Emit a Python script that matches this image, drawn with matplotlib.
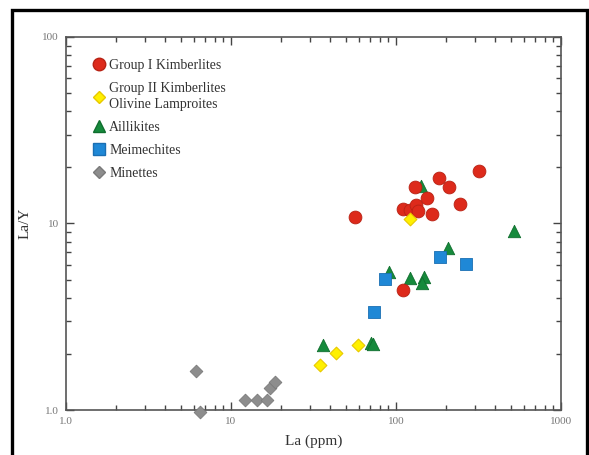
import matplotlib
matplotlib.use("Agg")
import matplotlib.pyplot as plt
from matplotlib.lines import Line2D
from matplotlib.patches import Rectangle
from matplotlib.ticker import LogLocator, NullFormatter, FixedFormatter, FixedLocator

# La (ppm) vs La/Y for each rock group
g1_la = [56.7, 109.8, 121.6, 132.2, 135.9, 130.4, 183, 208.6, 153.5, 166, 245, 318.5, 109.8]
g1_lay = [10.8, 11.9, 11.8, 12.5, 11.7, 15.6, 17.5, 15.6, 13.7, 11.3, 12.8, 19.2, 4.40]

g2_la = [34.7, 43.0, 59.0, 122.1]
g2_lay = [1.75, 2.02, 2.23, 10.6]

ail_la = [141.1, 205.2, 521, 90.1, 121.6, 147.8, 143.2, 35.9, 70.6, 72.9]
ail_lay = [15.9, 7.43, 9.17, 5.51, 5.10, 5.18, 4.78, 2.24, 2.30, 2.25]

mei_la = [183.5, 265.7, 85.8, 73.5]
mei_lay = [6.61, 6.04, 5.02, 3.35]

min_la = [6.14, 6.53, 12.1, 14.3, 16.6, 17.2, 18.4]
min_lay = [1.61, 0.98, 1.13, 1.13, 1.13, 1.31, 1.41]

plt.rcParams['font.family'] = ['Liberation Serif', 'DejaVu Serif']

fig = plt.figure(figsize=(5.89, 4.55), dpi=100)
ax = fig.add_axes([0.1121, 0.0989, 0.8404, 0.8198])

# outer frame
fig.patches.append(Rectangle((11.5 / 589, -0.05), (587 - 11.5) / 589, 1.05 - 10.5 / 455,
                             transform=fig.transFigure, fill=False, lw=2.4, ec='black'))

# groups drawn in legend order
ax.scatter(ail_la, ail_lay, marker='^', s=80, c='#168a3c', edgecolors='#0f6e2e', lw=0.6, zorder=3, clip_on=False)
ax.scatter(mei_la, mei_lay, marker='s', s=64, c='#1f88d6', edgecolors='#1a6fb3', lw=0.6, zorder=3, clip_on=False)
ax.scatter(g1_la, g1_lay, marker='o', s=85, c='#dd2a1b', edgecolors='#b82214', lw=0.6, zorder=4, clip_on=False)
ax.scatter(g2_la, g2_lay, marker='D', s=42, c='#fff000', edgecolors='#e8c800', lw=0.8, zorder=5, clip_on=False)
ax.scatter(min_la, min_lay, marker='D', s=42, c='#8d8d8d', edgecolors='#7a7a7a', lw=0.6, zorder=3, clip_on=False)

ax.set_xscale('log')
ax.set_yscale('log')
ax.set_xlim(1, 1000)
ax.set_ylim(1, 100)

ax.xaxis.set_major_locator(FixedLocator([1, 10, 100, 1000]))
ax.xaxis.set_major_formatter(FixedFormatter(['1.0', '10', '100', '1000']))
ax.yaxis.set_major_locator(FixedLocator([1, 10, 100]))
ax.yaxis.set_major_formatter(FixedFormatter(['1.0', '10', '100']))
ax.xaxis.set_minor_locator(LogLocator(base=10, subs=range(2, 10)))
ax.yaxis.set_minor_locator(LogLocator(base=10, subs=range(2, 10)))
ax.xaxis.set_minor_formatter(NullFormatter())
ax.yaxis.set_minor_formatter(NullFormatter())

ax.tick_params(which='both', direction='in', top=True, right=True, color='#444444', width=1.0,
               labelsize=8, labelcolor='#777777')
ax.tick_params(which='major', length=6, pad=5)
ax.tick_params(which='minor', length=3.5)
for s in ax.spines.values():
    s.set_color('#555555')
    s.set_linewidth(1.2)

ax.set_xlabel('La (ppm)', fontsize=11, color='#333333', labelpad=6)
ax.set_ylabel('La/Y', fontsize=11, color='#333333', labelpad=8)

handles = [
    Line2D([], [], ls='none', marker='o', ms=9, mfc='#dd2a1b', mec='#b82214'),
    Line2D([], [], ls='none', marker='D', ms=6, mfc='#fff000', mec='#e8c800'),
    Line2D([], [], ls='none', marker='^', ms=9, mfc='#168a3c', mec='#0f6e2e'),
    Line2D([], [], ls='none', marker='s', ms=8, mfc='#1f88d6', mec='#1a6fb3'),
    Line2D([], [], ls='none', marker='D', ms=6, mfc='#8d8d8d', mec='#7a7a7a'),
]
labels = ['Group I Kimberlites', 'Group II Kimberlites\nOlivine Lamproites',
          'Aillikites', 'Meimechites', 'Minettes']
leg = ax.legend(handles, labels, loc='upper left', frameon=False, fontsize=10,
                handlelength=0.8, handletextpad=0.3, labelspacing=0.72,
                borderaxespad=0.0, bbox_to_anchor=(0.045, 0.955))
for t in leg.get_texts():
    t.set_color('#333333')
    t.set_linespacing(1.3)

fig.savefig('out.png', dpi=100)
